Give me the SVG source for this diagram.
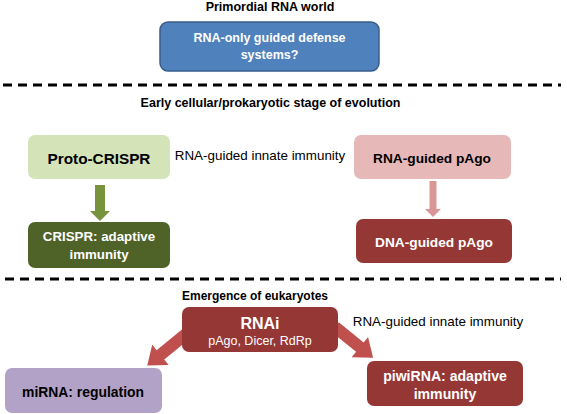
<svg xmlns="http://www.w3.org/2000/svg" width="567" height="414" viewBox="0 0 567 414">
  <style>
    text { font-family: "Liberation Sans", Arial, sans-serif; text-anchor: middle; dominant-baseline: central; }
    .hdr { font-weight: bold; font-size: 12.5px; fill: #000; }
    .lbl { font-size: 13.4px; fill: #000; }
    .bw { font-weight: bold; fill: #fff; }
    .bk { font-weight: bold; fill: #000; }
    .sep { stroke: #000; stroke-width: 3; stroke-dasharray: 9 6; fill: none; }
  </style>
  <rect width="567" height="414" fill="#fff"/>

  <text class="hdr" x="270" y="7">Primordial RNA world</text>
  <text class="hdr" x="270.5" y="103">Early cellular/prokaryotic stage of evolution</text>
  <text class="hdr" x="255" y="296" style="font-size:12px">Emergence of eukaryotes</text>
  <text class="lbl" x="260" y="155">RNA-guided innate immunity</text>
  <text class="lbl" x="438" y="321">RNA-guided innate immunity</text>

  <g id="separators">
    <line class="sep" x1="3" y1="85" x2="561" y2="85"/>
    <line class="sep" x1="5" y1="279" x2="561" y2="279"/>
  </g>

  <g id="connectors">
    <polygon fill="#77933c" points="95,185 105,185 105,211 110,211 100,221 90,211 95,211"/>
    <polygon fill="#d99694" points="429.5,181 436.5,181 436.5,209 441,209 433,217 425,209 429.5,209"/>
    <polygon fill="#c0504d" transform="translate(186,334) rotate(140.8)" points="0,-6 33,-6 33,-13 50,0 33,13 33,6 0,6"/>
    <polygon fill="#c0504d" transform="translate(335,327) rotate(39)" points="0,-6 32,-6 32,-13 49,0 32,13 32,6 0,6"/>
  </g>

  <g id="rna-only">
    <rect x="160" y="22" width="219" height="49" rx="8" fill="#4f81bd" stroke="#385d8a" stroke-width="1.5"/>
    <text class="bw" x="269.5" y="38" style="font-size:12.5px">RNA-only guided defense</text>
    <text class="bw" x="269.5" y="55" style="font-size:12.5px">systems?</text>
  </g>

  <g id="proto-crispr">
    <rect x="28" y="135" width="142" height="44" rx="7" fill="#d5e3b8"/>
    <text class="bk" x="99" y="158" style="font-size:15.3px">Proto-CRISPR</text>
  </g>

  <g id="rna-guided-pago">
    <rect x="354" y="135" width="157" height="44" rx="7" fill="#e6b9b8"/>
    <text class="bk" x="432" y="158" style="font-size:13.7px">RNA-guided pAgo</text>
  </g>

  <g id="crispr">
    <rect x="28" y="222" width="142" height="46" rx="7" fill="#4f6228"/>
    <text class="bw" x="99" y="236" style="font-size:13.3px">CRISPR: adaptive</text>
    <text class="bw" x="99" y="254" style="font-size:13.3px">immunity</text>
  </g>

  <g id="dna-guided-pago">
    <rect x="356" y="219" width="156" height="44" rx="7" fill="#953735"/>
    <text class="bw" x="434" y="242" style="font-size:13.7px">DNA-guided pAgo</text>
  </g>

  <g id="rnai">
    <rect x="182" y="307" width="156" height="45" rx="7" fill="#953735"/>
    <text class="bw" x="260" y="323" style="font-size:16px">RNAi</text>
    <text x="260" y="341" style="font-size:12.5px;fill:#fff">pAgo, Dicer, RdRp</text>
  </g>

  <g id="mirna">
    <rect x="5" y="368" width="157" height="45" rx="7" fill="#b3a2c7"/>
    <text class="bk" x="83" y="392" style="font-size:13.9px">miRNA: regulation</text>
  </g>

  <g id="piwirna">
    <rect x="367" y="361" width="156" height="45" rx="7" fill="#953735"/>
    <text class="bw" x="445" y="376" style="font-size:14.1px">piwiRNA: adaptive</text>
    <text class="bw" x="445" y="394" style="font-size:14.1px">immunity</text>
  </g>
</svg>
